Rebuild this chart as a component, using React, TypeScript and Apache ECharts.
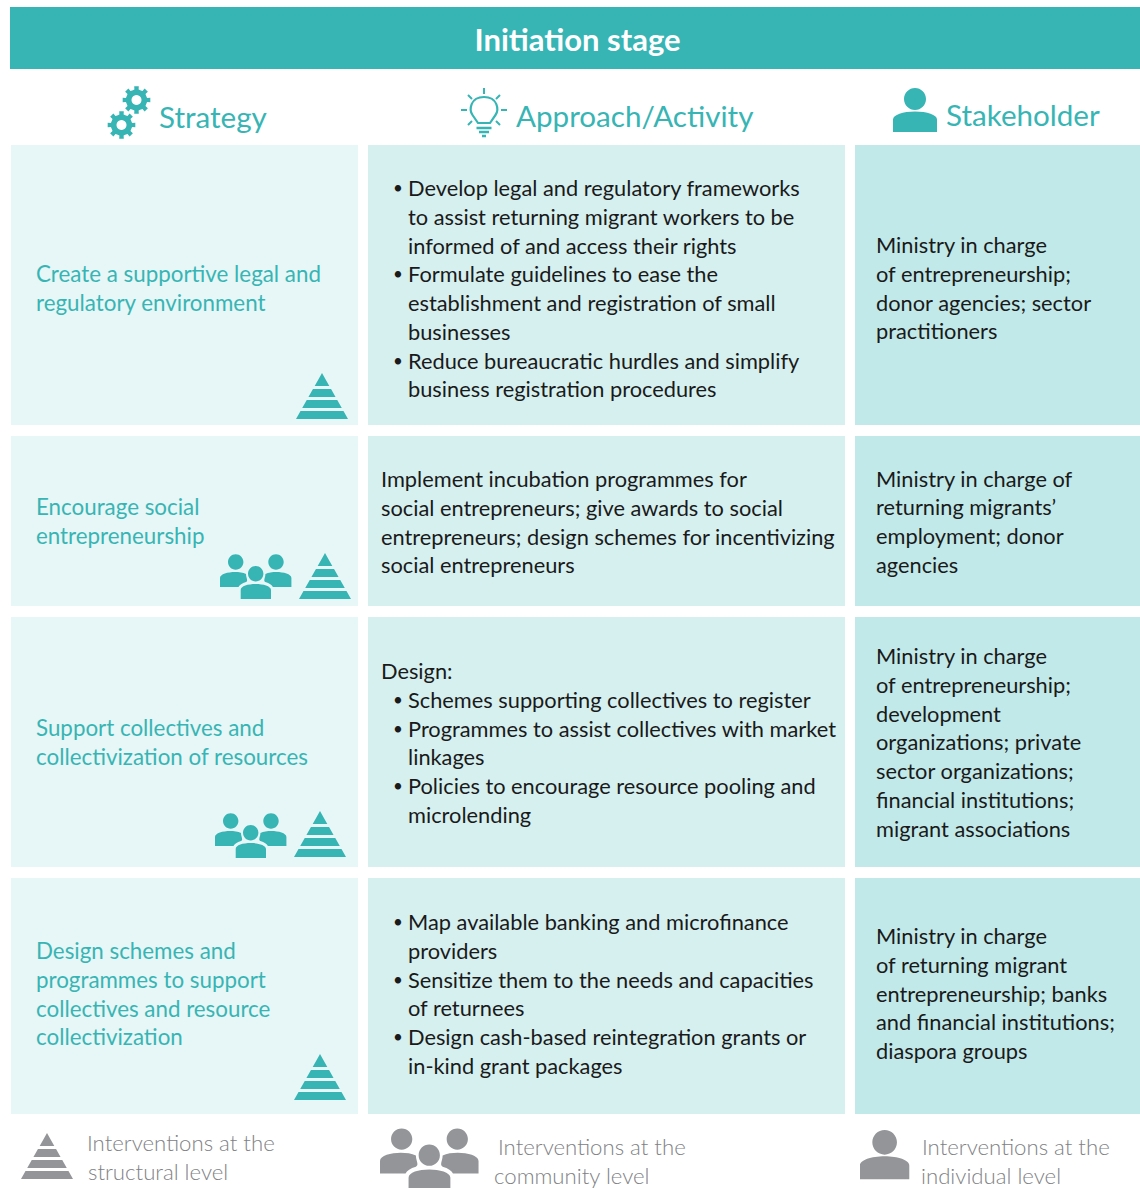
import React, { useEffect, useRef } from "react";
import * as echarts from "echarts";

const title = "Initiation stage";
const columnHeads = ["Strategy", "Approach/Activity", "Stakeholder"];
const strategies = [
  ["Create a supportive legal and", "regulatory environment"],
  ["Encourage social", "entrepreneurship"],
  ["Support collectives and", "collectivization of resources"],
  ["Design schemes and", "programmes to support", "collectives and resource", "collectivization"],
];
const approaches = [
  ["• Develop legal and regulatory frameworks", "  to assist returning migrant workers to be", "  informed of and access their rights", "• Formulate guidelines to ease the", "  establishment and registration of small", "  businesses", "• Reduce bureaucratic hurdles and simplify", "  business registration procedures"],
  ["Implement incubation programmes for", "social entrepreneurs; give awards to social", "entrepreneurs; design schemes for incentivizing", "social entrepreneurs"],
  ["Design:", "• Schemes supporting collectives to register", "• Programmes to assist collectives with market", "  linkages", "• Policies to encourage resource pooling and", "  microlending"],
  ["• Map available banking and microfinance", "  providers", "• Sensitize them to the needs and capacities", "  of returnees", "• Design cash-based reintegration grants or", "  in-kind grant packages"],
];
const stakeholders = [
  ["Ministry in charge", "of entrepreneurship;", "donor agencies; sector", "practitioners"],
  ["Ministry in charge of", "returning migrants’", "employment; donor", "agencies"],
  ["Ministry in charge", "of entrepreneurship;", "development", "organizations; private", "sector organizations;", "financial institutions;", "migrant associations"],
  ["Ministry in charge", "of returning migrant", "entrepreneurship; banks", "and financial institutions;", "diaspora groups"],
];
const legendTexts = [
  ["Interventions at the", "structural level"],
  ["Interventions at the", "community level"],
  ["Interventions at the", "individual level"],
];

const TEAL = "#37b5b4";
const GREY = "#939598";
const LEGEND_TEXT = "#808285";
const INK = "#1a1a1a";
const FONT = "Lato";

const PYRAMID =
  "M26 0L33.3 13L18.7 13ZM16.96 16L35.04 16L39.56 24L12.44 24ZM10.74 27L41.26 27L45.78 35L6.22 35ZM4.53 38L47.47 38L52 46L0 46Z";

const circleD = (cx: number, cy: number, r: number) => {
  const k = r * 0.5523;
  return `M${cx - r} ${cy}C${cx - r} ${cy - k} ${cx - k} ${cy - r} ${cx} ${cy - r}C${cx + k} ${cy - r} ${cx + r} ${cy - k} ${cx + r} ${cy}C${cx + r} ${cy + k} ${cx + k} ${cy + r} ${cx} ${cy + r}C${cx - k} ${cy + r} ${cx - r} ${cy + k} ${cx - r} ${cy}Z`;
};
const PERSON = circleD(22, 11, 11) + "M0 44V31.5C0 27 10 23.5 22 23.5C34 23.5 44 27 44 31.5V44Z";
const PEOPLE =
  circleD(15.7, 8, 7.7) +
  circleD(56, 8, 7.7) +
  circleD(35.7, 19.7, 7.7) +
  "M0 33V24C0 20 8 18 15 18C19 18 23 18.5 26 20C26 24 28.5 26.5 26 28C22 29 19.5 31 18.5 33Z" +
  "M71.4 33V24C71.4 20 63.4 18 56.4 18C52.4 18 48.4 18.5 45.4 20C45.4 24 42.9 26.5 45.4 28C49.4 29 51.9 31 52.9 33Z" +
  "M20.7 45V36C20.7 32 28 30 35.7 30C43 30 51 32 51 36V45Z";

const gearD = () => {
  const teeth = 8;
  const pts: string[] = [];
  for (let i = 0; i < teeth; i++) {
    const a = (i / teeth) * Math.PI * 2;
    const w = Math.PI / teeth;
    const p = (r: number, t: number) => `${(14 + r * Math.cos(t)).toFixed(2)} ${(14 + r * Math.sin(t)).toFixed(2)}`;
    pts.push(p(10.5, a - w * 0.9), p(10.8, a - w * 0.5), p(14, a - w * 0.42), p(14, a + w * 0.42), p(10.8, a + w * 0.5));
  }
  return "M" + pts.join("L") + "Z";
};
const BULB = "M17 35L11.5 27C8 22 9 9 23 9C37 9 38 22 34.5 27L29 35Z";
const BULB_RAYS = "M23 0V6M0 22H6M40 22H46M7 7L11 11M39 7L35 11M11 33L7 37M35 33L39 37";
const BULB_BASE = "M15.5 40H30.5M18 44H28M21 48H25";

echarts.graphic.registerShape("pyramidIcon", echarts.graphic.extendPath(PYRAMID, {}));
echarts.graphic.registerShape("personIcon", echarts.graphic.extendPath(PERSON, {}));
echarts.graphic.registerShape("peopleIcon", echarts.graphic.extendPath(PEOPLE, {}));
echarts.graphic.registerShape("gearIcon", echarts.graphic.extendPath(gearD(), {}));
echarts.graphic.registerShape("bulbIcon", echarts.graphic.extendPath(BULB, {}));
echarts.graphic.registerShape("bulbRays", echarts.graphic.extendPath(BULB_RAYS, {}));
echarts.graphic.registerShape("bulbBase", echarts.graphic.extendPath(BULB_BASE, {}));

const colX = [[11, 358], [368, 845], [855, 1140]];
const colFill = ["#e7f6f6", "#d6f0f0", "#c2e9e9"];
const rowY = [[145, 425], [436, 606], [617, 867], [878, 1114]];
const LH = 28.75;
const strategyY = [273.5, 506.5, 727.5, 950.5];
const approachY = [187.5, 478.5, 670.5, 921.5];
const stakeholderY = [244.5, 478, 655.5, 935.5];
const BODY = 21.8;
const STRAT = 22.35;

function txt(text: string, x: number, y: number, fill: string, size: number, extra: any = {}) {
  return {
    type: "text",
    silent: true,
    style: { text, x, y, fill, fontSize: size, fontFamily: FONT, align: "left", verticalAlign: "middle", ...extra },
  };
}
const icon = (type: string, x: number, y: number, fill: string, s = 1) => ({
  type,
  x,
  y,
  scaleX: s,
  scaleY: s,
  silent: true,
  style: { fill },
});

function buildGraphic() {
  const els: any[] = [];
  els.push({ type: "rect", silent: true, shape: { x: 10, y: 7, width: 1130, height: 62 }, style: { fill: TEAL } });
  els.push(txt(title, 577.5, 39, "#ffffff", 31, { align: "center", fontWeight: 700 }));

  // column heads
  els.push(txt(columnHeads[0], 159, 116, TEAL, 29.6));
  els.push(txt(columnHeads[1], 516, 115, TEAL, 29.6));
  els.push(txt(columnHeads[2], 946, 114, TEAL, 29.6));

  // gears
  [[122.5, 86], [107.5, 111]].forEach(([x, y]) => {
    els.push(icon("gearIcon", x, y, TEAL));
    els.push({ type: "circle", silent: true, shape: { cx: x + 14, cy: y + 14, r: 5 }, style: { fill: "#fff" } });
  });
  // bulb
  els.push({ type: "bulbIcon", x: 461, y: 88, silent: true, style: { fill: "none", stroke: TEAL, lineWidth: 2.2 } });
  els.push({ type: "bulbRays", x: 461, y: 88, silent: true, style: { fill: "none", stroke: TEAL, lineWidth: 2 } });
  els.push({ type: "bulbBase", x: 461, y: 88, silent: true, style: { fill: "none", stroke: TEAL, lineWidth: 2.6 } });
  // stakeholder
  els.push(icon("personIcon", 893, 88, TEAL));

  // cells
  rowY.forEach(([y0, y1]) => {
    colX.forEach(([x0, x1], c) => {
      els.push({ type: "rect", silent: true, shape: { x: x0, y: y0, width: x1 - x0, height: y1 - y0 }, style: { fill: colFill[c] } });
    });
  });

  strategies.forEach((lines, r) =>
    lines.forEach((l, i) => els.push(txt(l, 36, strategyY[r] + i * LH, TEAL, STRAT)))
  );
  approaches.forEach((lines, r) =>
    lines.forEach((l, i) => {
      const y = approachY[r] + i * LH;
      if (l.startsWith("• ")) {
        els.push(txt("•", 393, y, INK, 17));
        els.push(txt(l.slice(2), 408, y, INK, BODY));
      } else if (l.startsWith("  ")) {
        els.push(txt(l.slice(2), 408, y, INK, BODY));
      } else {
        els.push(txt(l, 381, y, INK, BODY));
      }
    })
  );
  stakeholders.forEach((lines, r) =>
    lines.forEach((l, i) => els.push(txt(l, 876, stakeholderY[r] + i * LH, INK, BODY)))
  );

  // icons in strategy cells
  els.push(icon("pyramidIcon", 296, 373, TEAL));
  els.push(icon("pyramidIcon", 299, 553, TEAL));
  els.push(icon("peopleIcon", 220, 554, TEAL));
  els.push(icon("pyramidIcon", 294, 811, TEAL));
  els.push(icon("peopleIcon", 215, 813, TEAL));
  els.push(icon("pyramidIcon", 294, 1054, TEAL));

  // legend
  els.push(icon("pyramidIcon", 21, 1133, GREY));
  els.push(icon("peopleIcon", 380, 1128, GREY, 1.38));
  els.push(icon("personIcon", 860, 1130, GREY, 1.12));
  const lx = [[87, 88], [498, 494], [922, 921]];
  const ly = [[1142, 1171], [1146, 1175], [1146, 1175]];
  legendTexts.forEach((lines, k) =>
    lines.forEach((l, i) => els.push(txt(l, lx[k][i], ly[k][i], LEGEND_TEXT, 22.2, { fontWeight: 300 })))
  );
  return els;
}

export default function App() {
  const ref = useRef<HTMLDivElement>(null);
  useEffect(() => {
    document.body.style.margin = "0";
    const chart = echarts.init(ref.current!, null, { renderer: "svg" });
    chart.setOption({ animation: false, backgroundColor: "#ffffff", graphic: { elements: buildGraphic() } });
    return () => chart.dispose();
  }, []);
  return <div ref={ref} style={{ width: 1140, height: 1188, overflow: "hidden" }} />;
}
